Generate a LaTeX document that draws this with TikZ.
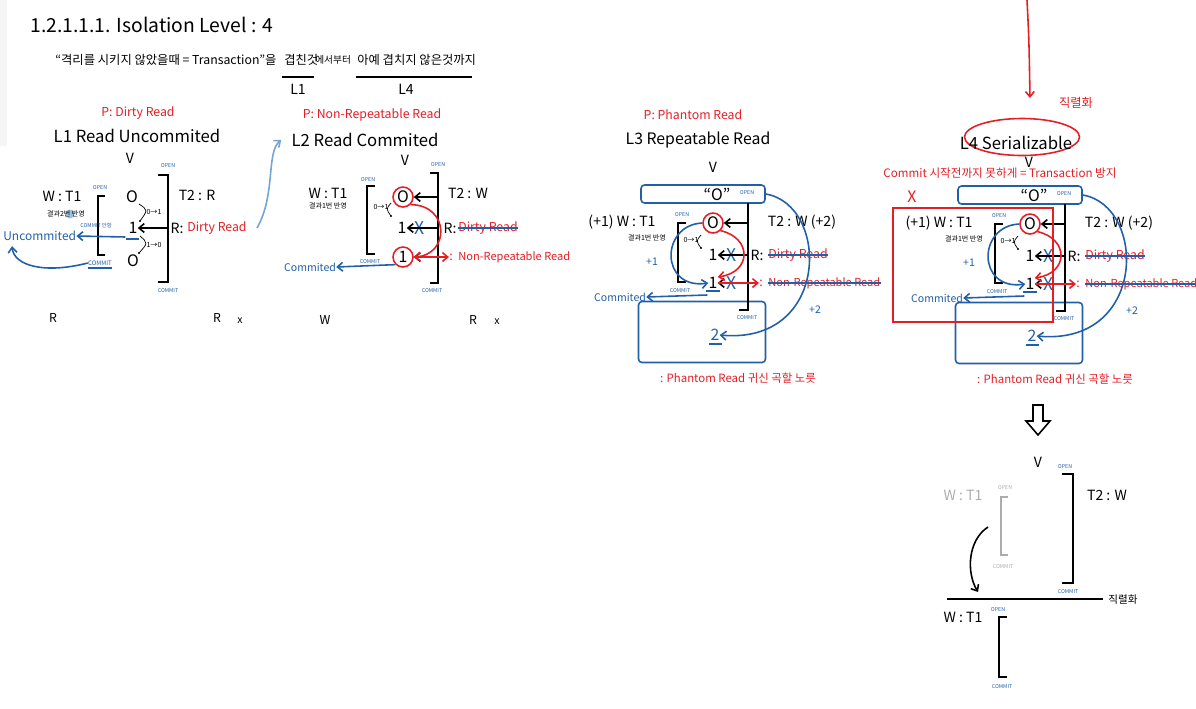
\documentclass[tikz,border=0pt]{standalone}
\usepackage{fontspec}
\setmainfont{Noto Sans CJK KR}
\usetikzlibrary{arrows.meta, calc, shapes.geometric}
\definecolor{penred}{RGB}{228, 30, 36}
\definecolor{penblue}{RGB}{33, 96, 168}
\definecolor{paleblue}{RGB}{115, 165, 210}
\definecolor{pengray}{RGB}{172, 172, 172}

\begin{document}
\begin{tikzpicture}[x=0.02cm, y=-0.02cm, >={Straight Barb[length=3pt,width=5pt]},
    every node/.style={inner sep=0pt},
    fs/.style={font=\fontsize{#1}{#1}\selectfont},
    tag/.style={fs=3, text=penblue},
    memo/.style={fs=4},
    big/.style={fs=8},
    val/.style={fs=9},
    pen/.style={line width=0.9pt},
    brk/.style={line width=1.1pt, black},
    ring/.style={draw=penred, line width=0.9pt, circle, minimum size=0.4cm},
    bluebox/.style={draw=penblue, line width=0.9pt, rounded corners=2pt}]

    \useasboundingbox (0,0) rectangle (1196,708);
    \fill[black!4] (0,0) rectangle (7,146);

    % ==========================================================
    % titulo
    % ==========================================================
    \node[fs=11, anchor=west] (head) at (30,25) {1.2.1.1.1. Isolation Level : 4};
    \node[fs=7, anchor=west] (qa) at (55,60) {``격리를 시키지 않았을때 = Transaction''을};
    \node[fs=7, anchor=west] (qb) at (284,60) {겹친것};
    \node[fs=5.5, anchor=west] (qc) at (315,60) {에서부터};
    \node[fs=7, anchor=west] (qd) at (357,60) {아예 겹치지 않은것까지};
    \draw[pen] (282,77) -- (314,77);
    \draw[pen] (356,77) -- (472,77);
    \node[big] (lone) at (298,89) {L1};
    \node[big] (lfour) at (406,89) {L4};

    % ==========================================================
    % L1 Read Uncommited
    % ==========================================================
    \node[fs=7, text=penred] (p1) at (138,113) {P: Dirty Read};
    \node[fs=9.5] (t1) at (137,136) {L1 Read Uncommited};
    \node[big] (v1) at (130,158) {V};
    \draw[brk] (158,175) -- (168,175) -- (168,282) -- (158,282);
    \draw[brk] (105,196) -- (98,196) -- (98,255) -- (105,255);
    \node[tag] (opa1) at (168,166) {OPEN};
    \node[tag] (cma1) at (168,291) {COMMIT};
    \node[tag] (opb1) at (100,188) {OPEN};
    \node[big] (w1) at (62,196) {W : T1};
    \node[big] (r1) at (197,195) {T2 : R};
    \node[val] (o1) at (132,197) {O};
    \node[val] (m1) at (133,228) {1};
    \node[val] (z1) at (133,261) {O};
    \draw[penblue, pen] (126,239) -- (139,239);

    % 0 -> 1 -> 0
    \draw[thin] (139,204) .. controls (148,210) .. (140,221);
    \fill (140,221) circle (0.6pt);
    \node[memo] at (154,212) {0→1};
    \draw[thin] (140,236) .. controls (148,243) .. (139,253);
    \fill (139,253) circle (0.6pt);
    \node[memo] at (154,245) {1→0};

    \coordinate (kb1) at (168,228);
    \draw[pen, ->] (kb1) -- (m1.east);
    \node[big] (rr1) at (177,228) {R:};
    \node[fs=7, text=penred, anchor=west] (dr1) at (187,228) {Dirty Read};

    \fill[paleblue, opacity=0.7] (70,214) circle (0.09cm);
    \node[memo] at (66,214) {결과2번 반영};
    \node[tag] at (96,225) {COMMIT 안함};
    \node[fs=6.8, text=penblue, anchor=west] (un1) at (3,236) {Uncommited};
    \draw[penblue, pen, ->] ($(m1.south west)+(-3,3)$) -- (un1.east);
    \node[fs=3.5, text=penblue] (cmu1) at (100,263) {COMMIT};
    \draw[penblue, pen] (88,268) -- (112,268);
    \draw[penblue, pen, ->] (cmu1.west) .. controls (45,274) and (14,266) .. ($(un1.south west)+(9,5)$);

    \node[fs=7] at (53,318) {R};
    \node[fs=7] at (217,318) {R};
    \node[fs=6] at (240,321) {x};

    % ==========================================================
    % L2 Read Commited
    % ==========================================================
    \node[fs=7, text=penred] (p2) at (372,115) {P: Non-Repeatable Read};
    \node[fs=9.5] (t2) at (365,140) {L2 Read Commited};
    \node[big] (v2) at (405,160) {V};
    \draw[brk] (430,173) -- (438,173) -- (438,283) -- (430,283);
    \draw[brk] (375,186) -- (367,186) -- (367,254) -- (375,254);
    \node[tag] (opa2) at (438,165) {OPEN};
    \node[tag] (cma2) at (432,291) {COMMIT};
    \node[tag] (opb2) at (368,180) {OPEN};
    \node[big] (w2) at (328,193) {W : T1};
    \node[big] (r2) at (468,193) {T2 : W};
    \node[val, ring] (o2) at (403,197) {O};
    \node[val] (m2) at (402,228) {1};
    \node[val, ring] (c2) at (403,257) {1};
    \node[fs=10, text=penblue] (k2) at (420,228) {X};
    \node[memo] at (328,206) {결과1번 반영};
    \node[memo] at (381,207) {0→1};
    \draw[thin] (391,203) .. controls (386,209) .. (391,216);
    \fill (391,216) circle (0.6pt);

    % de L1 a L2
    \draw[paleblue, pen, ->] ($(dr1.east)+(10,0)$) .. controls (276,195) and (266,152) .. ($(t2.west)+(-10,0)$);

    \coordinate (ka2) at (438,197);
    \coordinate (kb2) at (438,228);
    \coordinate (kc2) at (438,257);
    \draw[pen, ->] (ka2) -- (o2.east);
    \draw[pen, ->] (kb2) -- (m2.east);
    \draw[pen, ->] (kc2) -- (c2.east);
    \node[big] (rr2) at (450,228) {R:};
    \node[fs=7, text=penred, anchor=west] (dr2) at (458,228) {Dirty Read};
    \draw[penblue, pen] (dr2.west) -- (dr2.east);

    \draw[penred, pen, ->] (o2.south east) .. controls (450,205) and (450,255) .. (c2.east);
    \node[fs=7, text=penred] (nrc2) at (451,257) {:};
    \node[fs=6.3, text=penred, anchor=west] (nr2) at (458,257) {Non-Repeatable Read};
    \draw[penred, pen, ->] (c2.east) -- (nrc2.west);

    \node[fs=6, text=penblue] (cmt2) at (310,267) {Commited};
    \draw[penblue, pen, ->] (c2.south west) -- (cmt2.east);
    \node[tag] at (370,262) {COMMIT};

    \node[fs=7] at (325,320) {W};
    \node[fs=7] at (473,320) {R};
    \node[fs=6] at (497,322) {x};

    % ==========================================================
    % L3 Repeatable Read / L4 Serializable
    % ==========================================================
    \node[fs=7, text=penred] (p3) at (693,115) {P: Phantom Read};
    \node[fs=9] (t3) at (698,140) {L3 Repeatable Read};
    \node[big] (v3) at (713,167) {V};

    \foreach \lv/\dx/\dy in {3/0/0, 4/317/1} {
    \begin{scope}[shift={(\dx,\dy)}]
        \node[bluebox, minimum width=2.48cm, minimum height=0.36cm] (top\lv) at (703,194) {};
        \node[val] (q\lv) at (717,194) {``O''};
        \node[tag] (opa\lv) at (747,193) {OPEN};
        \node[bluebox, minimum width=2.54cm, minimum height=1.22cm] (bot\lv) at (702,332) {};
        \node[tag] (cma\lv) at (747,318) {COMMIT};
        \draw[brk] (748,203) -- (748,310) -- (739,310);
        \draw[brk] (686,223) -- (678,223) -- (678,282) -- (686,282);
        \node[tag] (opb\lv) at (682,215) {OPEN};
        \node[big] (w\lv) at (622,222) {(+1) W : T1};
        \node[big] (r\lv) at (802,222) {T2 : W (+2)};

        \node[val, ring] (o\lv) at (713,223) {O};
        \node[val] (m\lv) at (713,255) {1};
        \node[val] (c\lv) at (713,283) {1};
        \draw[penblue, pen] (706,291) -- (720,291);
        \node[fs=10, text=penblue] (ka\lv) at (732,255) {X};
        \node[fs=10, text=penblue] (kc\lv) at (732,283) {X};
        \node[memo] at (647,238) {결과1번 반영};
        \node[memo] at (691,240) {0→1};
        \draw[thin] (701,235) .. controls (696,241) .. (701,248);
        \fill (701,248) circle (0.6pt);

        \coordinate (ba\lv) at (748,223);
        \coordinate (bb\lv) at (748,255);
        \coordinate (bc\lv) at (748,283);
        \draw[pen, ->] (ba\lv) -- (o\lv.east);
        \draw[pen, ->] (bb\lv) -- (m\lv.east);
        \draw[pen, ->] (bc\lv) -- (c\lv.east);
        \node[big] (rr\lv) at (757,255) {R:};
        \node[fs=7, text=penred, anchor=west] (dr\lv) at (768,255) {Dirty Read};
        \draw[penblue, pen] (dr\lv.west) -- (dr\lv.east);

        \draw[penred, pen, ->] (o\lv.south east) .. controls (752,238) and (752,272) .. (c\lv.north east);
        \node[fs=7, text=penred] (nrc\lv) at (761,283) {:};
        \node[fs=6.3, text=penred, anchor=west] (nr\lv) at (768,283) {Non-Repeatable Read};
        \draw[penblue, pen] (nr\lv.west) -- (nr\lv.east);
        \draw[penred, pen, ->] (c\lv.east) -- (nrc\lv.west);

        % +1 y +2
        \draw[penblue, pen, ->] (o\lv.west) .. controls (660,225) and (660,290) .. (c\lv.west);
        \node[fs=6, text=penblue] at (652,262) {+1};
        \node[val, text=penblue] (two\lv) at (715,335) {2};
        \draw[penblue, pen] (709,344) -- (722,344);
        \draw[penblue, pen, ->] (top\lv.east) .. controls (830,205) and (830,345) .. (two\lv.east);
        \node[fs=6, text=penblue] at (815,310) {+2};

        \node[fs=6, text=penblue] (cmt\lv) at (620,297) {Commited};
        \draw[penblue, pen, ->] ($(c\lv.south west)+(-1,6)$) -- (cmt\lv.east);
        \node[tag] at (680,291) {COMMIT};

        \node[fs=6.5, text=penred] at (738,378) {: Phantom Read 귀신 곡할 노릇};
    \end{scope}
    }

    % extras de L4
    \coordinate (sky) at (1027,0);
    \coordinate (drop) at (1030,98);
    \draw[penred, pen, ->] (sky) .. controls (1029,40) .. (drop);
    \node[fs=7, text=penred] at (1076,103) {직렬화};
    \node[ellipse, draw=penred, pen, minimum width=2.3cm, minimum height=0.74cm] (ring4) at (1022,137) {};
    \node[fs=9.5] (t4) at (1016,143) {L4 Serializable};
    \node[big] (v4) at (1029,162) {V};
    \node[fs=6.6, text=penred] (rule4) at (1000,173) {Commit 시작전까지 못하게 = Transaction 방지};
    \node[fs=9, text=penred] (no4) at (912,197) {X};
    \draw[penred, pen] (893,208) rectangle (1053,322);

    % ==========================================================
    % serializacion
    % ==========================================================
    \draw[pen] (1033,405) -- (1043,405) -- (1043,421) -- (1050,421) -- (1038,435)
        -- (1026,421) -- (1033,421) -- cycle;
    \node[big] (v5) at (1038,462) {V};
    \node[tag] (opa5) at (1065,467) {OPEN};
    \draw[brk] (1062,474) -- (1073,474) -- (1073,583) -- (1062,583);
    \node[tag] (cma5) at (1068,592) {COMMIT};
    \node[big] (r5) at (1107,495) {T2 : W};

    \node[big, text=pengray] (wg5) at (963,495) {W : T1};
    \node[fs=3, text=pengray] at (1005,488) {OPEN};
    \draw[line width=1.1pt, pengray] (1008,497) -- (1001,497) -- (1001,555) -- (1008,555);
    \node[fs=3, text=pengray] at (1003,567) {COMMIT};

    \coordinate (from5) at (988,527);
    \coordinate (to5) at (978,592);
    \draw[pen, ->] (from5) .. controls (968,540) and (966,572) .. (to5);
    \draw[pen] (947,599) -- (1103,599);
    \node[fs=6] at (1123,600) {직렬화};

    \node[big] (w5) at (963,617) {W : T1};
    \node[tag] at (998,610) {OPEN};
    \draw[brk] (1007,617) -- (999,617) -- (999,677) -- (1007,677);
    \node[tag] at (1002,687) {COMMIT};

\end{tikzpicture}
\end{document}
